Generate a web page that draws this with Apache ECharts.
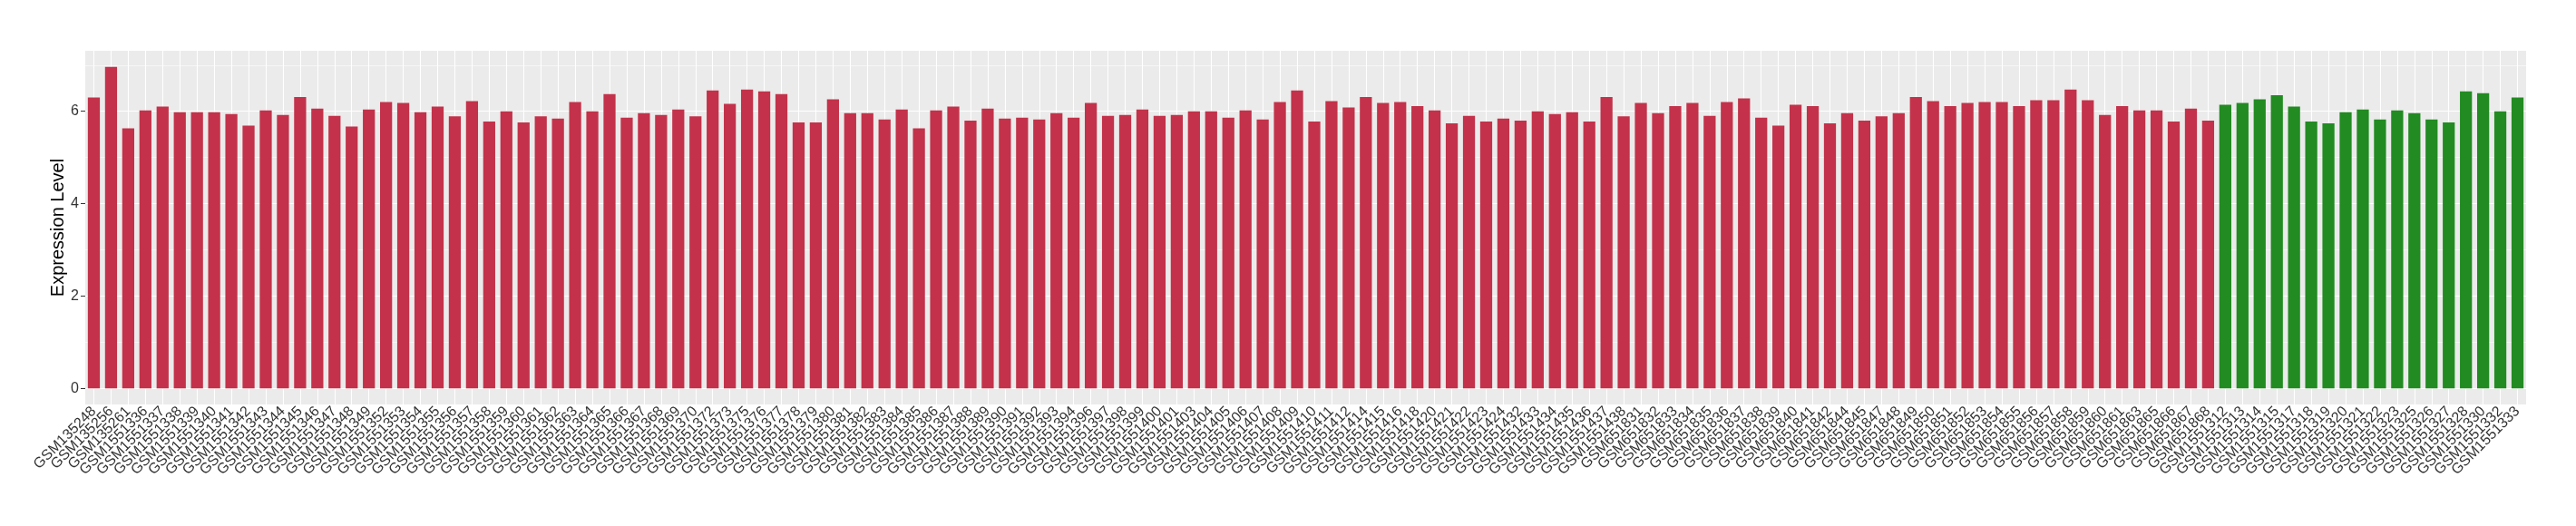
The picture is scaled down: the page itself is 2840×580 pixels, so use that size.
<!DOCTYPE html>
<html>
<head>
<meta charset="utf-8">
<script src="https://cdn.jsdelivr.net/npm/echarts@6/dist/echarts.min.js"></script>
<style>
html,body{margin:0;padding:0;background:#fff;}
#chart{width:2840px;height:580px;}
</style>
</head>
<body>
<div id="chart"></div>
<script>
const redSamples = ["GSM135248","GSM135256","GSM135261","GSM1551336","GSM1551337","GSM1551338","GSM1551339","GSM1551340","GSM1551341","GSM1551342","GSM1551343","GSM1551344","GSM1551345","GSM1551346","GSM1551347","GSM1551348","GSM1551349","GSM1551352","GSM1551353","GSM1551354","GSM1551355","GSM1551356","GSM1551357","GSM1551358","GSM1551359","GSM1551360","GSM1551361","GSM1551362","GSM1551363","GSM1551364","GSM1551365","GSM1551366","GSM1551367","GSM1551368","GSM1551369","GSM1551370","GSM1551372","GSM1551373","GSM1551375","GSM1551376","GSM1551377","GSM1551378","GSM1551379","GSM1551380","GSM1551381","GSM1551382","GSM1551383","GSM1551384","GSM1551385","GSM1551386","GSM1551387","GSM1551388","GSM1551389","GSM1551390","GSM1551391","GSM1551392","GSM1551393","GSM1551394","GSM1551396","GSM1551397","GSM1551398","GSM1551399","GSM1551400","GSM1551401","GSM1551403","GSM1551404","GSM1551405","GSM1551406","GSM1551407","GSM1551408","GSM1551409","GSM1551410","GSM1551411","GSM1551412","GSM1551414","GSM1551415","GSM1551416","GSM1551418","GSM1551420","GSM1551421","GSM1551422","GSM1551423","GSM1551424","GSM1551432","GSM1551433","GSM1551434","GSM1551435","GSM1551436","GSM1551437","GSM1551438","GSM651831","GSM651832","GSM651833","GSM651834","GSM651835","GSM651836","GSM651837","GSM651838","GSM651839","GSM651840","GSM651841","GSM651842","GSM651844","GSM651845","GSM651847","GSM651848","GSM651849","GSM651850","GSM651851","GSM651852","GSM651853","GSM651854","GSM651855","GSM651856","GSM651857","GSM651858","GSM651859","GSM651860","GSM651861","GSM651863","GSM651865","GSM651866","GSM651867","GSM651868"];
const redValues = [6.30,6.96,5.63,6.02,6.10,5.98,5.98,5.98,5.94,5.69,6.02,5.92,6.31,6.06,5.90,5.67,6.04,6.20,6.18,5.98,6.10,5.89,6.22,5.78,6.00,5.76,5.89,5.84,6.20,6.00,6.37,5.86,5.96,5.92,6.04,5.89,6.45,6.16,6.47,6.43,6.37,5.76,5.76,6.26,5.96,5.96,5.82,6.04,5.63,6.02,6.10,5.80,6.06,5.84,5.86,5.82,5.96,5.86,6.18,5.90,5.92,6.04,5.90,5.92,6.00,6.00,5.86,6.02,5.82,6.20,6.45,5.78,6.22,6.08,6.31,6.18,6.20,6.11,6.02,5.74,5.90,5.78,5.84,5.80,6.00,5.94,5.98,5.78,6.31,5.89,6.18,5.96,6.11,6.18,5.90,6.20,6.28,5.86,5.69,6.14,6.11,5.74,5.96,5.80,5.89,5.96,6.31,6.22,6.11,6.18,6.20,6.20,6.11,6.24,6.24,6.47,6.24,5.92,6.11,6.02,6.02,5.78,6.06,5.80];
const greenSamples = ["GSM1551312","GSM1551313","GSM1551314","GSM1551315","GSM1551317","GSM1551318","GSM1551319","GSM1551320","GSM1551321","GSM1551322","GSM1551323","GSM1551325","GSM1551326","GSM1551327","GSM1551328","GSM1551330","GSM1551332","GSM1551333"];
const greenValues = [6.14,6.18,6.26,6.35,6.10,5.78,5.74,5.98,6.04,5.82,6.02,5.96,5.82,5.76,6.43,6.39,6.00,6.30];
const yTicks = [0,2,4,6];
const yMinorTicks = [1,3,5,7];
const yTitle = "Expression Level";

const RED = '#C3324A', GREEN = '#228B22';
const categories = redSamples.concat(greenSamples);
const barData = redValues.map(v => ({value: v, itemStyle: {color: RED}}))
  .concat(greenValues.map(v => ({value: v, itemStyle: {color: GREEN}})));

const gridLines = []
  .concat(yTicks.map(v => ({yAxis: v, lineStyle: {color: '#fff', width: 1.1, type: 'solid'}})))
  .concat(yMinorTicks.map(v => ({yAxis: v, lineStyle: {color: '#fff', width: 0.55, type: 'solid'}})))
  .concat(categories.map(c => ({xAxis: c, lineStyle: {color: '#fff', width: 1.1, type: 'solid'}})));

const FONT = '"Liberation Sans", Arial, Helvetica, sans-serif';
const chart = echarts.init(document.getElementById('chart'), null, {renderer: 'canvas'});
chart.setOption({
  animation: false,
  backgroundColor: '#ffffff',
  textStyle: {fontFamily: FONT},
  grid: {left: 94, right: 55, top: 56, bottom: 134, show: true, backgroundColor: '#EBEBEB', borderWidth: 0, containLabel: false, outerBoundsMode: 'none'},
  xAxis: {
    type: 'category',
    data: categories,
    boundaryGap: true,
    axisLine: {show: false},
    axisTick: {show: true, alignWithLabel: true, interval: 0, length: 5, lineStyle: {color: '#333333', width: 1}},
    axisLabel: {interval: 0, rotate: 45, margin: 5, color: '#333333', fontSize: 16, fontFamily: FONT, hideOverlap: false},
    splitLine: {show: false}
  },
  yAxis: {
    type: 'value',
    min: -0.35,
    max: 7.31,
    name: yTitle,
    nameLocation: 'middle',
    nameRotate: 90,
    nameGap: 20,
    nameMoveOverlap: false,
    nameTextStyle: {color: '#000', fontSize: 20, fontFamily: FONT},
    axisLine: {show: false},
    axisTick: {show: true, length: 5, customValues: yTicks, lineStyle: {color: '#333333', width: 1}},
    axisLabel: {customValues: yTicks, margin: 7, color: '#333333', fontSize: 16, fontFamily: FONT},
    splitLine: {show: false}
  },
  series: [
    {
      type: 'line',
      data: [],
      z: 1,
      silent: true,
      markLine: {silent: true, z: 1, symbol: ['none','none'], label: {show: false}, animation: false, data: gridLines}
    },
    {
      type: 'bar',
      data: barData,
      barWidth: '70%',
      z: 3
    }
  ]
});
</script>
</body>
</html>
